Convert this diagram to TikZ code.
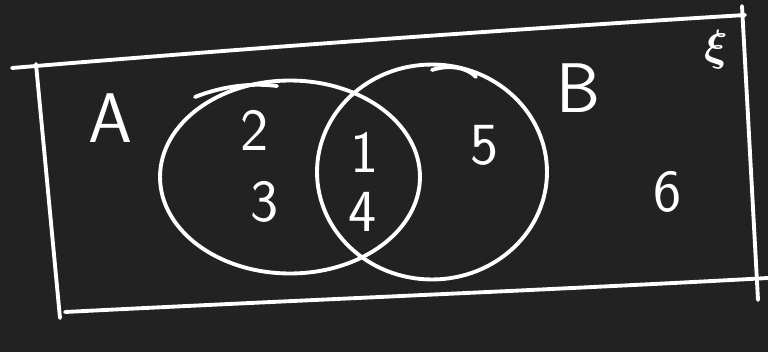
\documentclass[tikz,border=0pt]{standalone}
\usepackage{tikz}
\usetikzlibrary{shapes.geometric}
\definecolor{boarddark}{RGB}{34,34,34}

\begin{document}
\begin{tikzpicture}[x=0.02cm, y=-0.02cm, line width=2.2pt,
	chalk/.style={draw=white, line cap=round, line join=round},
	setring/.style={chalk, ellipse, inner sep=0pt},
	hand/.style={text=white, font=\sffamily\fontsize{34}{38}\selectfont, inner sep=0pt},
	bighand/.style={hand, font=\sffamily\fontsize{40}{44}\selectfont}]
	\fill[boarddark] (0,0) rectangle (768,352);
	\useasboundingbox (0,0) rectangle (768,352);
	% universal set
	\draw[chalk] (12,68) .. controls (250,48) and (500,30) .. (745,15);
	\draw[chalk] (36,64) -- (60,318);
	\draw[chalk] (65,312) .. controls (300,300) and (550,290) .. (768,278);
	\draw[chalk] (742,6) -- (758,300);
	% the two sets
	\node[setring, minimum width=5.2cm, minimum height=3.86cm] (setA) at (290,177) {};
	\node[setring, minimum width=4.6cm, minimum height=4.3cm] (setB) at (432,172) {};
	\draw[chalk] (195,97) .. controls (225,85) and (255,83) .. (277,86);
	\draw[chalk] (432,70) .. controls (450,64) and (468,68) .. (476,77);
	% labels
	\node[bighand] (labA) at (110,118) {A};
	\node[bighand] (labB) at (578,88) {B};
	\node[hand, font=\boldmath\fontsize{34}{38}\selectfont] (univ) at (716,50) {$\xi$};
	\node[hand] (two) at (255,130) {2};
	\node[hand] (three) at (265,202) {3};
	\node[hand] (one) at (365,152) {1};
	\node[hand] (four) at (363,212) {4};
	\node[hand] (five) at (485,145) {5};
	\node[hand] (six) at (668,192) {6};
\end{tikzpicture}
\end{document}
